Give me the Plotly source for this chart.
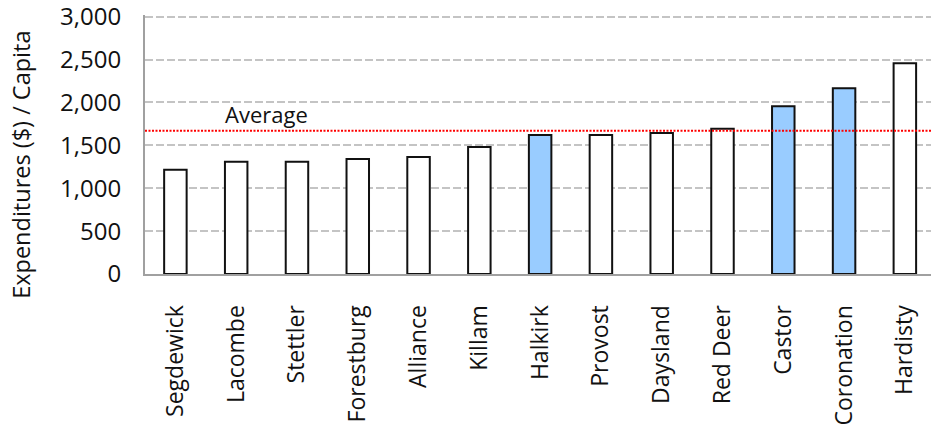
import plotly.graph_objects as go

# Expenditures per capita by municipality
towns = ["Segdewick", "Lacombe", "Stettler", "Forestburg", "Alliance", "Killam",
         "Halkirk", "Provost", "Daysland", "Red Deer", "Castor", "Coronation", "Hardisty"]
spend = [1215, 1308, 1310, 1340, 1365, 1480, 1620, 1620, 1643, 1694, 1955, 2165, 2456]
highlighted = ["Halkirk", "Castor", "Coronation"]
average_value = 1670
y_ticks = [0, 500, 1000, 1500, 2000, 2500, 3000]

FONT = "Open Sans"
fills = ["#99CCFF" if t in highlighted else "#FFFFFF" for t in towns]

W, H = 931, 426
M_L, M_R, M_T, M_B = 145, 0, 15, 152

fig = go.Figure()
fig.add_trace(go.Bar(
    x=towns, y=spend, width=0.37,
    marker=dict(color=fills, line=dict(color="#111111", width=2)),
    showlegend=False, hoverinfo="x+y",
))

# Average reference line
fig.add_shape(type="line", xref="paper", yref="y", x0=0, x1=1,
              y0=average_value, y1=average_value,
              line=dict(color="#FF0000", width=2, dash="2px,1.5px"), layer="above")
fig.add_annotation(text="Average", xref="x", yref="y", x=1.5, y=average_value,
                   yshift=17, showarrow=False, xanchor="center", yanchor="middle",
                   font=dict(family=FONT, size=22, color="#111111"))

# Y-axis title
fig.add_annotation(text="Expenditures ($) / Capita", xref="paper", yref="paper",
                   x=-0.157, y=0.42, textangle=-90, showarrow=False,
                   xanchor="center", yanchor="middle",
                   font=dict(family=FONT, size=23.5, color="#111111"))

fig.update_layout(
    width=W, height=H,
    margin=dict(l=M_L, r=M_R, t=M_T, b=M_B, pad=0),
    plot_bgcolor="white", paper_bgcolor="white",
    font=dict(family=FONT, size=24, color="#111111"),
    bargap=0.6,
)
fig.update_xaxes(
    range=[-0.5, 12.43], tickangle=-90, showgrid=False,
    showline=True, linecolor="#A0A0A0", linewidth=2,
    ticks="", ticklabelstandoff=20, automargin=False,
    tickfont=dict(family=FONT, size=23, color="#111111"),
)
fig.update_yaxes(
    range=[0, 3020], tickvals=y_ticks, tickformat=",d",
    showgrid=True, gridcolor="#C4C4C4", griddash="8px,3px", gridwidth=2,
    showline=True, linecolor="#A0A0A0", linewidth=2, zeroline=False,
    ticks="", ticklabelstandoff=17, automargin=False, ticklabeloverflow="allow",
    tickfont=dict(family=FONT, size=24, color="#111111"),
)

fig.write_html("out.html")
